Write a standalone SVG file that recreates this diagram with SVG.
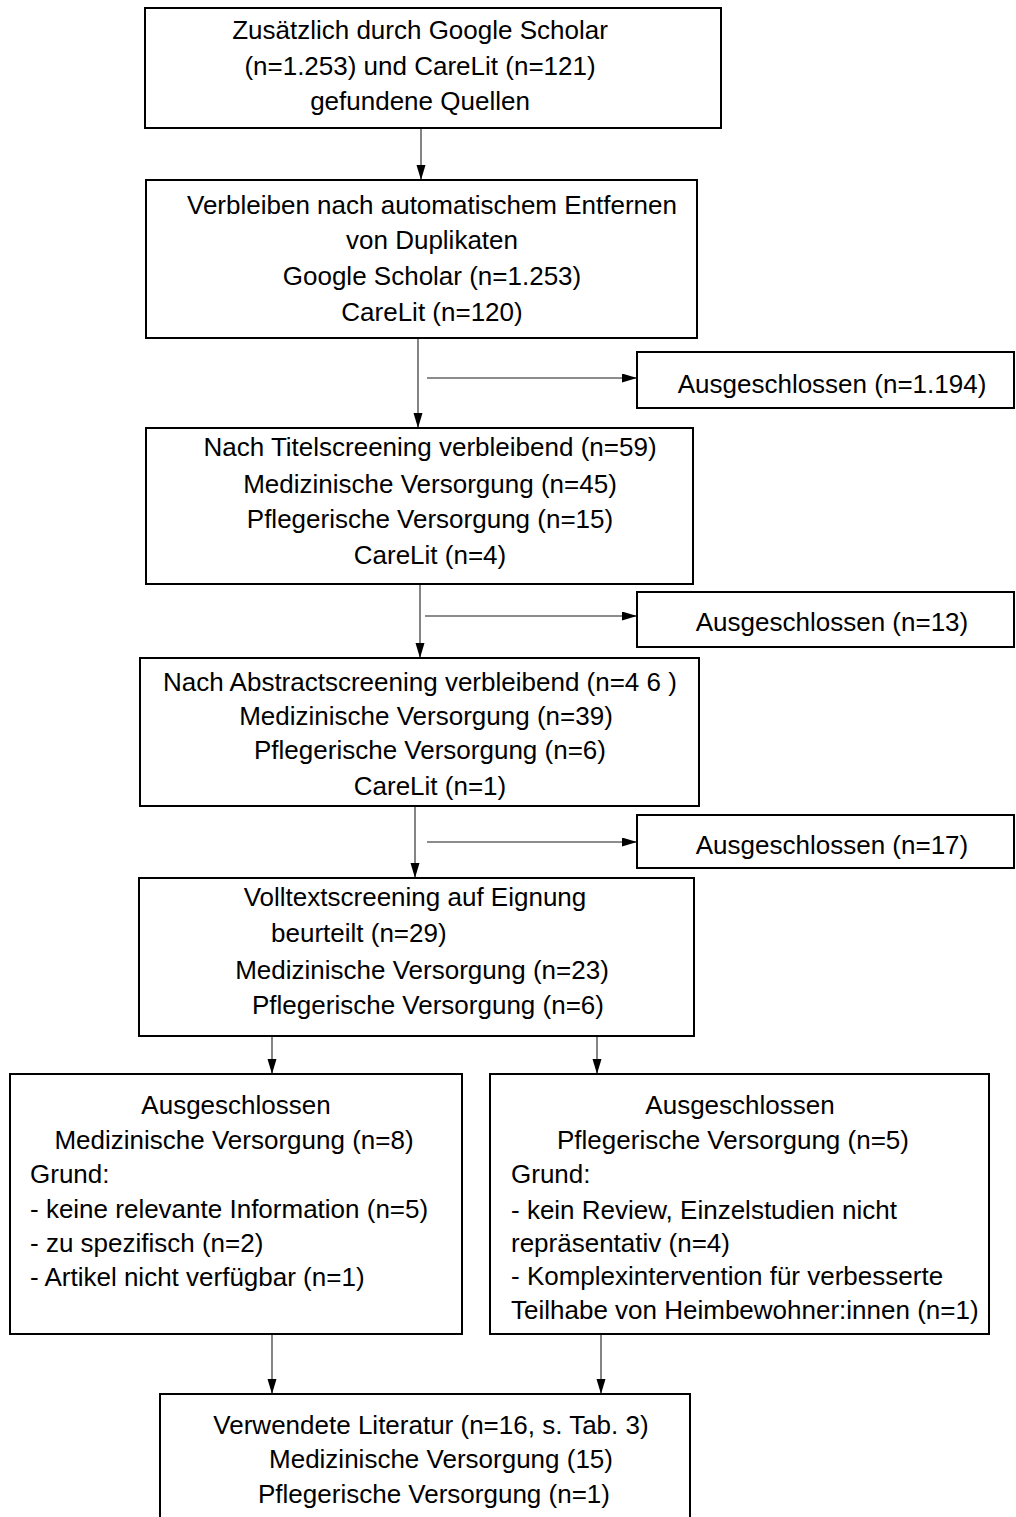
<svg xmlns="http://www.w3.org/2000/svg" width="1016" height="1517" viewBox="0 0 1016 1517">
<style>
  .box { fill: #ffffff; stroke: #000000; stroke-width: 2; }
  text { font-family: "Liberation Sans", Arial, sans-serif; font-size: 26px; fill: #000000; }
  .c { text-anchor: middle; }
  .l { text-anchor: start; }
  .conn { stroke: #333333; stroke-width: 1.2; fill: none; marker-end: url(#ah); }
  .side { stroke: #666666; stroke-width: 1.5; fill: none; marker-end: url(#ah); }
</style>
<defs>
  <marker id="ah" markerUnits="userSpaceOnUse" markerWidth="16" markerHeight="10" refX="15" refY="4.5" orient="auto">
    <path d="M0,0 L15,4.5 L0,9 z" fill="#000000"/>
  </marker>
</defs>
<rect width="1016" height="1517" fill="#ffffff"/>

<g id="connectors">
  <line class="conn" x1="421" y1="128" x2="421" y2="180"/>
  <line class="conn" x1="418" y1="338" x2="418" y2="428"/>
  <line class="side" x1="427" y1="378" x2="637" y2="378"/>
  <line class="conn" x1="420" y1="584" x2="420" y2="658"/>
  <line class="side" x1="425" y1="616" x2="637" y2="616"/>
  <line class="conn" x1="415" y1="806" x2="415" y2="878"/>
  <line class="side" x1="427" y1="842" x2="637" y2="842"/>
  <line class="conn" x1="272" y1="1036" x2="272" y2="1074"/>
  <line class="conn" x1="597" y1="1036" x2="597" y2="1074"/>
  <line class="conn" x1="272" y1="1334" x2="272" y2="1394"/>
  <line class="conn" x1="601" y1="1334" x2="601" y2="1394"/>
</g>

<g id="n1">
  <rect class="box" x="145" y="8" width="576" height="120"/>
  <text class="c" x="420" y="39">Zusätzlich durch Google Scholar</text>
  <text class="c" x="420" y="75">(n=1.253) und CareLit (n=121)</text>
  <text class="c" x="420" y="110">gefundene Quellen</text>
</g>

<g id="n2">
  <rect class="box" x="146" y="180" width="551" height="158"/>
  <text class="c" x="432" y="214">Verbleiben nach automatischem Entfernen</text>
  <text class="c" x="432" y="249">von Duplikaten</text>
  <text class="c" x="432" y="285">Google Scholar (n=1.253)</text>
  <text class="c" x="432" y="321">CareLit (n=120)</text>
</g>

<g id="x1">
  <rect class="box" x="637" y="352" width="377" height="56"/>
  <text class="c" x="832" y="393">Ausgeschlossen (n=1.194)</text>
</g>

<g id="n3">
  <rect class="box" x="146" y="428" width="547" height="156"/>
  <text class="c" x="430" y="456">Nach Titelscreening verbleibend (n=59)</text>
  <text class="c" x="430" y="493">Medizinische Versorgung (n=45)</text>
  <text class="c" x="430" y="528">Pflegerische Versorgung (n=15)</text>
  <text class="c" x="430" y="564">CareLit (n=4)</text>
</g>

<g id="x2">
  <rect class="box" x="637" y="592" width="377" height="55"/>
  <text class="c" x="832" y="631">Ausgeschlossen (n=13)</text>
</g>

<g id="n4">
  <rect class="box" x="140" y="658" width="559" height="148"/>
  <text class="c" x="420" y="691">Nach Abstractscreening verbleibend (n=4 6 )</text>
  <text class="c" x="426" y="725">Medizinische Versorgung (n=39)</text>
  <text class="c" x="430" y="759">Pflegerische Versorgung (n=6)</text>
  <text class="c" x="430" y="795">CareLit (n=1)</text>
</g>

<g id="x3">
  <rect class="box" x="637" y="815" width="377" height="53"/>
  <text class="c" x="832" y="854">Ausgeschlossen (n=17)</text>
</g>

<g id="n5">
  <rect class="box" x="139" y="878" width="555" height="158"/>
  <text class="c" x="415" y="906">Volltextscreening auf Eignung</text>
  <text class="l" x="271" y="942">beurteilt (n=29)</text>
  <text class="c" x="422" y="979">Medizinische Versorgung (n=23)</text>
  <text class="c" x="428" y="1014">Pflegerische Versorgung (n=6)</text>
</g>

<g id="n6">
  <rect class="box" x="10" y="1074" width="452" height="260"/>
  <text class="c" x="236" y="1114">Ausgeschlossen</text>
  <text class="c" x="234" y="1149">Medizinische Versorgung (n=8)</text>
  <text class="l" x="30" y="1183">Grund:</text>
  <text class="l" x="30" y="1218">- keine relevante Information (n=5)</text>
  <text class="l" x="30" y="1252">- zu spezifisch (n=2)</text>
  <text class="l" x="30" y="1286">- Artikel nicht verfügbar (n=1)</text>
</g>

<g id="n7">
  <rect class="box" x="490" y="1074" width="499" height="260"/>
  <text class="c" x="740" y="1114">Ausgeschlossen</text>
  <text class="c" x="733" y="1149">Pflegerische Versorgung (n=5)</text>
  <text class="l" x="511" y="1183">Grund:</text>
  <text class="l" x="511" y="1219">- kein Review, Einzelstudien nicht</text>
  <text class="l" x="511" y="1252">repräsentativ (n=4)</text>
  <text class="l" x="511" y="1285">- Komplexintervention für verbesserte</text>
  <text class="l" x="511" y="1319">Teilhabe von Heimbewohner:innen (n=1)</text>
</g>

<g id="n8">
  <rect class="box" x="160" y="1394" width="530" height="140"/>
  <text class="c" x="431" y="1434">Verwendete Literatur (n=16, s. Tab. 3)</text>
  <text class="c" x="441" y="1468">Medizinische Versorgung (15)</text>
  <text class="c" x="434" y="1503">Pflegerische Versorgung (n=1)</text>
</g>
</svg>
